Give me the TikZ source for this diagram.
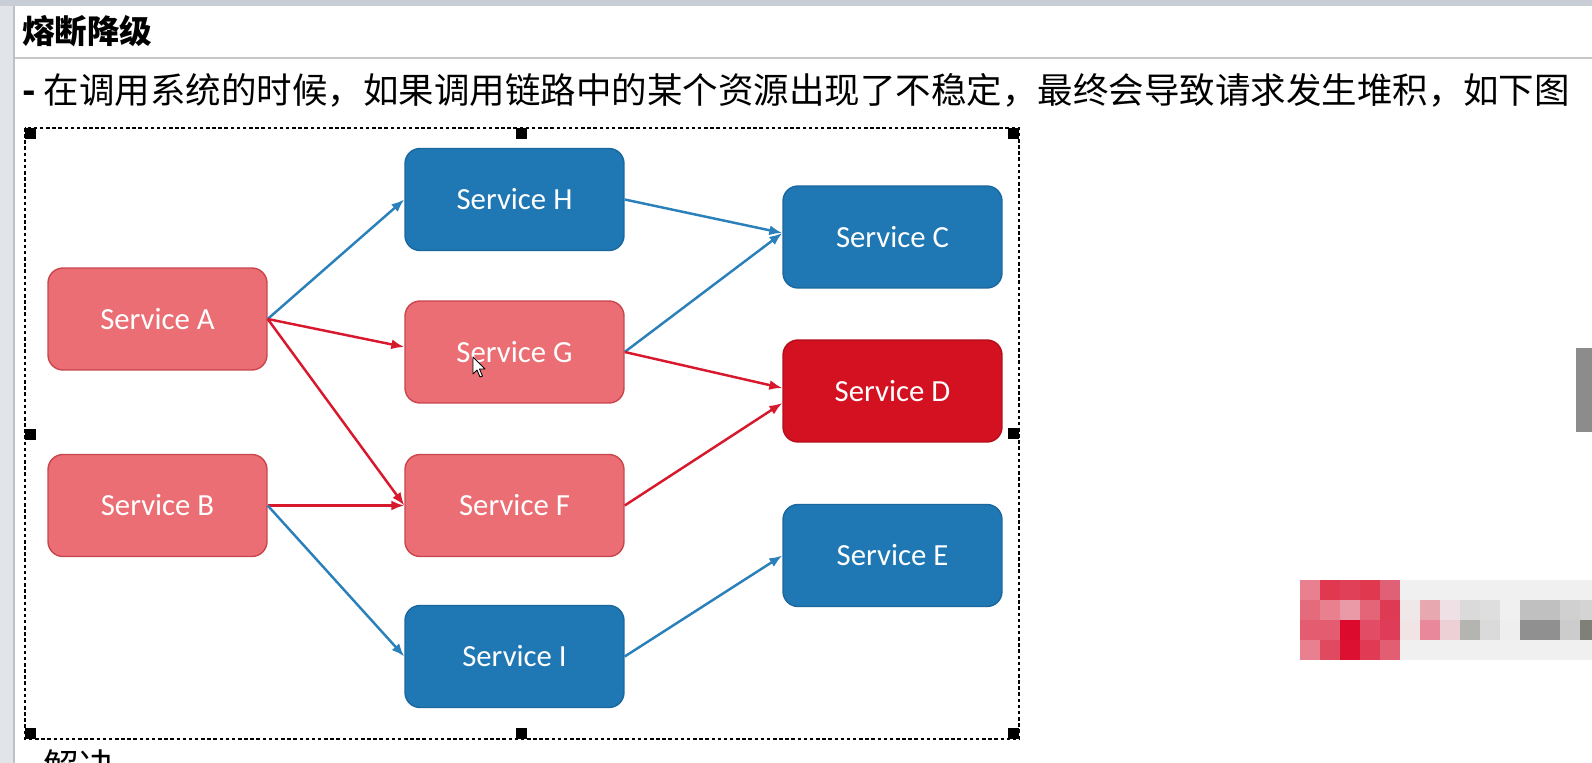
\documentclass[tikz,border=0pt]{standalone}
\usepackage{fontspec}
\setmainfont{Carlito}
\newfontfamily\cjk{Noto Sans CJK SC}
\usetikzlibrary{arrows.meta}

\definecolor{okfill}{HTML}{1F78B4}
\definecolor{okline}{HTML}{19679C}
\definecolor{slowfill}{HTML}{EA6E73}
\definecolor{slowline}{HTML}{C9464D}
\definecolor{badfill}{HTML}{D41120}
\definecolor{badline}{HTML}{B50D19}
\definecolor{okarrow}{HTML}{2A80BA}
\definecolor{badarrow}{HTML}{D8182D}

\begin{document}
\begin{tikzpicture}[x=0.02cm,y=-0.02cm,
  svc/.style={rectangle, rounded corners=0.3cm, minimum width=4.38cm,
    minimum height=2.04cm, line width=0.8pt, text=white,
    font=\fontsize{17.5}{20}\selectfont},
  ok/.style={svc, draw=okline, fill=okfill},
  slow/.style={svc, draw=slowline, fill=slowfill},
  bad/.style={svc, draw=badline, fill=badfill},
  call/.style={-{Latex[length=0.26cm,width=0.2cm]}, line width=1.4pt},
  good/.style={call, okarrow},
  fail/.style={call, badarrow}]

  \useasboundingbox (0,0) rectangle (1592,763);
  \clip (0,0) rectangle (1592,763);
  \fill[white] (0,0) rectangle (1592,763);

  \fill[color={rgb,255:red,226;green,228;blue,232}] (0,0) rectangle (13,763);
  \fill[color={rgb,255:red,188;green,194;blue,204}] (13,0) rectangle (15,763);
  \fill[color={rgb,255:red,201;green,206;blue,214}] (0,0) rectangle (1592,6);
  \draw[line width=1pt, color={rgb,255:red,200;green,200;blue,200}] (15,58) -- (1592,58);

  \node[anchor=base west, inner sep=0] (title) at (22,44)
    {\cjk\bfseries\fontsize{18.5}{22}\selectfont 熔断降级};
  \node[anchor=base west, inner sep=0] (intro) at (22,104)
    {\cjk\fontsize{20.2}{24}\selectfont\textbf{-} 在调用系统的时候，如果调用链路中的某个资源出现了不稳定，最终会导致请求发生堆积，如下图};
  \node[anchor=base west, inner sep=0] (next) at (22,779)
    {\cjk\fontsize{20.2}{24}\selectfont\textbf{-} 解决};

  \draw[line width=0.6pt, dash pattern=on 2pt off 1.5pt] (25,128) rectangle (1019,739);
  \foreach \hx/\hy in {25/128, 516/128, 1008/128, 25/429, 1008/428, 25/728, 516/728, 1008/728}
    \fill (\hx,\hy) rectangle ++(11,11);

  \node[slow] (A) at (157.5,319) {Service A};
  \node[slow] (B) at (157.5,505.5) {Service B};
  \node[ok]   (H) at (514.5,199.5) {Service H};
  \node[slow] (G) at (514.5,352) {Service G};
  \node[slow] (F) at (514.5,505.5) {Service F};
  \node[ok]   (I) at (514.5,656.5) {Service I};
  \node[ok]   (C) at (892.5,237) {Service C};
  \node[bad]  (D) at (892.5,391) {Service D};
  \node[ok]   (E) at (892.5,555.5) {Service E};

  \draw[good] (A.east) -- (H.west);
  \draw[fail] (A.east) -- ([yshift=0.1cm]G.west);
  \draw[fail] (A.east) -- (F.west);
  \draw[fail] (B.east) -- (F.west);
  \draw[good] (B.east) -- (I.west);
  \draw[good] (H.east) -- ([yshift=0.08cm]C.west);
  \draw[good] (G.east) -- ([yshift=0.08cm]C.west);
  \draw[fail] (G.east) -- ([yshift=0.06cm]D.west);
  \draw[fail] (F.east) -- ([yshift=-0.24cm]D.west);
  \draw[good] (I.east) -- (E.west);

  \draw[fill=white, line width=0.5pt, line join=round] (473,357) -- ++(0,17) -- ++(4,-4)
    -- ++(3,7) -- ++(2.5,-1) -- ++(-3,-7) -- ++(5.5,0) -- cycle;

  \fill[color={rgb,255:red,140;green,140;blue,140}] (1576,348) rectangle (1592,432);

  \foreach \row/\cells in {
      0/{E8808F,E0384F,E04058,E0384F,E06075,F0F0F0,F0F0F0,F0F0F0,F0F0F0,F0F0F0,F0F0F0,F0F0F0,F0F0F0,F0F0F0,F0F0F0},
      1/{E46A7C,E88090,EA9AA6,E46478,DE3A54,F0E8E8,E8A8B0,EEE0E4,DADADA,DEDEDE,F0F0F0,C0C0C0,C0C0C0,D0D0D0,D4D4D4},
      2/{E45C70,E45C70,DC0A2C,E24C64,DE3C58,F0E4E4,E8889A,ECD0D6,B4B4B0,DADADA,EEEEEE,909090,909090,CCCCCC,808078},
      3/{E88090,E04A60,DC1030,E03A54,E25E72,F0F0F0,F0F0F0,F0F0F0,F0F0F0,F0F0F0,F0F0F0,F0F0F0,F0F0F0,F0F0F0,F0F0F0}}
    \foreach \cell [count=\col from 0] in \cells {
      \definecolor{mosaic}{HTML}{\cell}
      \fill[mosaic] (1300+20*\col,580+20*\row) rectangle ++(20,20);
    };
\end{tikzpicture}
\end{document}
